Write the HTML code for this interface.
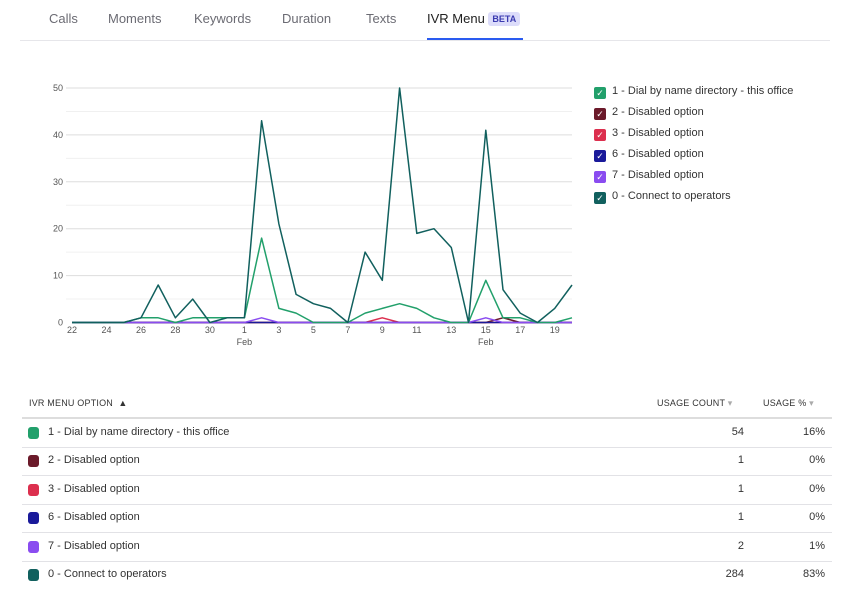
<!DOCTYPE html>
<html><head><meta charset="utf-8"><style>
body{margin:0;width:850px;height:588px;background:#fff;font-family:"Liberation Sans",sans-serif;overflow:hidden;position:relative}
.tab{position:absolute;top:11px;font-size:13px;color:#6b6b73}
.tabline{position:absolute;left:20px;right:20px;top:40px;height:1px;background:#e6e6ea}
.leg{position:absolute;left:594px;font-size:11px;color:#333;}
.leg span{display:inline-block;width:12px;height:12px;border-radius:2px;vertical-align:-2px;margin-right:6px;color:#fff;font-size:9px;text-align:center;line-height:12px}
.th{position:absolute;top:398px;font-size:9px;color:#333;letter-spacing:0.2px}
.row{position:absolute;left:22px;width:810px;height:28px;border-bottom:1px solid #e2e2e6;font-size:11px;color:#333}
.row .sw{position:absolute;left:6px;top:8px;width:11px;height:12px;border-radius:3px}
.row .n{position:absolute;left:26px;top:7px}
.row .c{position:absolute;right:88px;top:7px}
.row .p{position:absolute;right:7px;top:7px}
</style></head><body>
<div class="tab" style="left:49px">Calls</div>
<div class="tab" style="left:108px">Moments</div>
<div class="tab" style="left:194px">Keywords</div>
<div class="tab" style="left:282px">Duration</div>
<div class="tab" style="left:366px">Texts</div>
<div class="tab" style="left:427px;color:#222">IVR Menu <span style="font-size:9px;font-weight:bold;color:#3a3ab0;background:#dcdcfa;padding:2px 4px;border-radius:3px;vertical-align:1px">BETA</span></div>
<div class="tabline"></div>
<div style="position:absolute;left:427px;top:38px;width:96px;height:2px;background:#2a5bf0"></div>
<svg id="ch" width="850" height="360" style="position:absolute;left:0;top:0" font-family="Liberation Sans, sans-serif" font-size="9" fill="#555"></svg>
<div class="leg" style="top:85px"><span style="background:#22a06b">✓</span>1 - Dial by name directory - this office</div>
<div class="leg" style="top:106px"><span style="background:#6b1a2a">✓</span>2 - Disabled option</div>
<div class="leg" style="top:127px"><span style="background:#dc2f4e">✓</span>3 - Disabled option</div>
<div class="leg" style="top:148px"><span style="background:#1a1a9a">✓</span>6 - Disabled option</div>
<div class="leg" style="top:169px"><span style="background:#8a4cf0">✓</span>7 - Disabled option</div>
<div class="leg" style="top:190px"><span style="background:#11605e">✓</span>0 - Connect to operators</div>
<div class="th" style="left:29px">IVR MENU OPTION &nbsp;▲</div>
<div class="th" style="left:657px">USAGE COUNT <span style="color:#aaa">▾</span></div>
<div class="th" style="left:763px">USAGE % <span style="color:#aaa">▾</span></div>
<div style="position:absolute;left:22px;width:810px;top:417px;height:2px;background:#ddd"></div>
<div class="row" style="top:419px"><div class="sw" style="background:#22a06b"></div><div class="n">1 - Dial by name directory - this office</div><div class="c">54</div><div class="p">16%</div></div>
<div class="row" style="top:447px"><div class="sw" style="background:#6b1a2a"></div><div class="n">2 - Disabled option</div><div class="c">1</div><div class="p">0%</div></div>
<div class="row" style="top:476px"><div class="sw" style="background:#dc2f4e"></div><div class="n">3 - Disabled option</div><div class="c">1</div><div class="p">0%</div></div>
<div class="row" style="top:504px"><div class="sw" style="background:#1a1a9a"></div><div class="n">6 - Disabled option</div><div class="c">1</div><div class="p">0%</div></div>
<div class="row" style="top:533px"><div class="sw" style="background:#8a4cf0"></div><div class="n">7 - Disabled option</div><div class="c">2</div><div class="p">1%</div></div>
<div class="row" style="top:561px;border:none"><div class="sw" style="background:#11605e"></div><div class="n">0 - Connect to operators</div><div class="c">284</div><div class="p">83%</div></div>
<script>
var s=document.getElementById('ch'),h='';
function X(i){return 72+i*17.24}function Y(v){return 322.5-v*4.69}
for(var v=5;v<=50;v+=5){h+='<line x1="66" x2="572" y1="'+Y(v)+'" y2="'+Y(v)+'" stroke="'+(v%10?'#f0f0f0':'#ddd')+'" stroke-width="1"/>';if(v%10==0)h+='<text x="63" y="'+(Y(v)+3)+'" text-anchor="end">'+v+'</text>';}
h+='<text x="63" y="325.5" text-anchor="end">0</text>';
var lab=['22','','24','','26','','28','','30','','1','','3','','5','','7','','9','','11','','13','','15','','17','','19',''];
for(var i=0;i<30;i++)if(lab[i])h+='<text x="'+X(i)+'" y="333" text-anchor="middle">'+lab[i]+'</text>';
h+='<text x="'+X(10)+'" y="345" text-anchor="middle">Feb</text><text x="'+X(24)+'" y="345" text-anchor="middle">Feb</text>';
function z(){return new Array(30).fill(0)}
function line(d,c){var p=d.map(function(v,i){return X(i).toFixed(1)+','+Y(v).toFixed(1)}).join(' ');h+='<polyline points="'+p+'" fill="none" stroke="'+c+'" stroke-width="1.5" stroke-linejoin="round"/>'}
var r=z();r[18]=1;var dr=z();dr[25]=1;var nv=z();var pu=z();pu[11]=1;pu[24]=1;
line(r,'#dc2f4e');line(dr,'#6b1a2a');line(nv,'#1a1a9a');line(pu,'#8a4cf0');
line([0,0,0,0,1,1,0,1,1,1,1,18,3,2,0,0,0,2,3,4,3,1,0,0,9,1,1,0,0,1],'#22a06b');
line([0,0,0,0,1,8,1,5,0,1,1,43,21,6,4,3,0,15,9,50,19,20,16,0,41,7,2,0,3,8],'#11605e');
s.innerHTML=h;
</script>
</body></html>
